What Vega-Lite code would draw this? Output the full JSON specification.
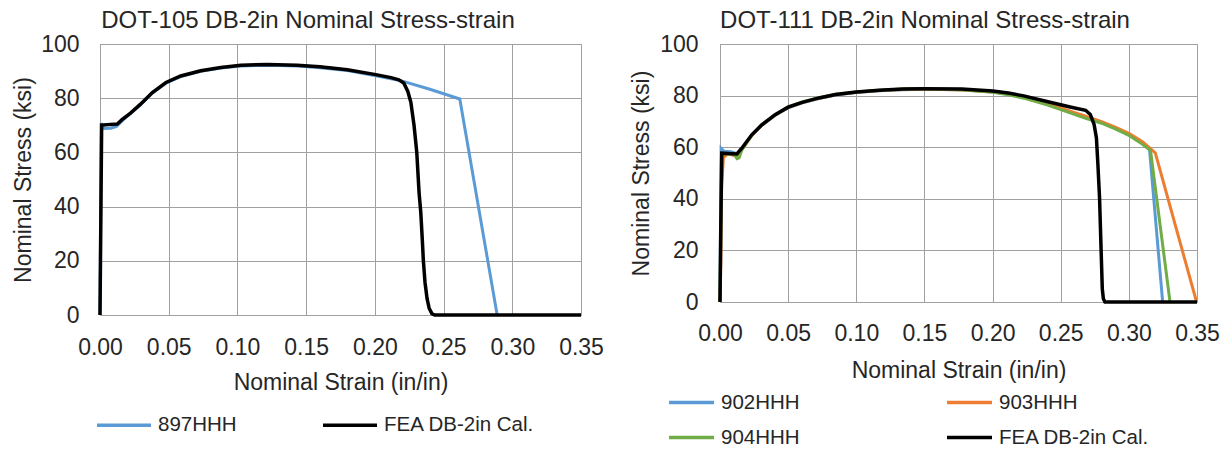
{
  "$schema": "https://vega.github.io/schema/vega-lite/v6.json",
  "padding": {"left": 12, "top": 8, "right": 5, "bottom": 5},
  "background": "white",
  "config": {
    "font": "Liberation Sans",
    "view": {"stroke": "#a0a0a0", "strokeWidth": 1},
    "axis": {
      "labelFontSize": 23, "titleFontSize": 23, "titleFontWeight": "normal",
      "labelColor": "#262626", "titleColor": "#262626",
      "gridColor": "#a0a0a0", "gridWidth": 1, "ticks": false, "domain": false,
      "labelFlush": false, "labelOverlap": false
    },
    "legend": {
      "labelFontSize": 20.5, "labelColor": "#262626", "labelLimit": 400,
      "symbolType": "stroke", "symbolStrokeWidth": 3.5, "padding": 0
    }
  },
  "datasets": {
    "dot105": [
      {"strain": 0, "stress": 0, "series": "897HHH"},
      {"strain": 0.0003, "stress": 22, "series": "897HHH"},
      {"strain": 0.0006, "stress": 50, "series": "897HHH"},
      {"strain": 0.0009, "stress": 70.8, "series": "897HHH"},
      {"strain": 0.003, "stress": 68.8, "series": "897HHH"},
      {"strain": 0.008, "stress": 68.9, "series": "897HHH"},
      {"strain": 0.012, "stress": 69.6, "series": "897HHH"},
      {"strain": 0.016, "stress": 71.6, "series": "897HHH"},
      {"strain": 0.022, "stress": 74.3, "series": "897HHH"},
      {"strain": 0.0295, "stress": 77.6, "series": "897HHH"},
      {"strain": 0.0381, "stress": 81.9, "series": "897HHH"},
      {"strain": 0.048, "stress": 85.6, "series": "897HHH"},
      {"strain": 0.0587, "stress": 88.0, "series": "897HHH"},
      {"strain": 0.0733, "stress": 89.9, "series": "897HHH"},
      {"strain": 0.0879, "stress": 91.1, "series": "897HHH"},
      {"strain": 0.1025, "stress": 91.9, "series": "897HHH"},
      {"strain": 0.1218, "stress": 92.2, "series": "897HHH"},
      {"strain": 0.1436, "stress": 91.9, "series": "897HHH"},
      {"strain": 0.16, "stress": 91.2, "series": "897HHH"},
      {"strain": 0.18, "stress": 90.2, "series": "897HHH"},
      {"strain": 0.2007, "stress": 88.3, "series": "897HHH"},
      {"strain": 0.2118, "stress": 87.2, "series": "897HHH"},
      {"strain": 0.2188, "stress": 86.5, "series": "897HHH"},
      {"strain": 0.24, "stress": 83.3, "series": "897HHH"},
      {"strain": 0.2618, "stress": 79.7, "series": "897HHH"},
      {"strain": 0.289, "stress": 0, "series": "897HHH"},
      {"strain": 0, "stress": 0, "series": "FEA DB-2in Cal."},
      {"strain": 0.0006, "stress": 35, "series": "FEA DB-2in Cal."},
      {"strain": 0.0012, "stress": 70.1, "series": "FEA DB-2in Cal."},
      {"strain": 0.0126, "stress": 70.5, "series": "FEA DB-2in Cal."},
      {"strain": 0.016, "stress": 72.1, "series": "FEA DB-2in Cal."},
      {"strain": 0.0222, "stress": 74.5, "series": "FEA DB-2in Cal."},
      {"strain": 0.0295, "stress": 77.8, "series": "FEA DB-2in Cal."},
      {"strain": 0.0381, "stress": 82.1, "series": "FEA DB-2in Cal."},
      {"strain": 0.048, "stress": 85.8, "series": "FEA DB-2in Cal."},
      {"strain": 0.0587, "stress": 88.2, "series": "FEA DB-2in Cal."},
      {"strain": 0.0733, "stress": 90.1, "series": "FEA DB-2in Cal."},
      {"strain": 0.0879, "stress": 91.3, "series": "FEA DB-2in Cal."},
      {"strain": 0.1025, "stress": 92.2, "series": "FEA DB-2in Cal."},
      {"strain": 0.1218, "stress": 92.4, "series": "FEA DB-2in Cal."},
      {"strain": 0.1436, "stress": 92.2, "series": "FEA DB-2in Cal."},
      {"strain": 0.16, "stress": 91.6, "series": "FEA DB-2in Cal."},
      {"strain": 0.18, "stress": 90.5, "series": "FEA DB-2in Cal."},
      {"strain": 0.2007, "stress": 88.7, "series": "FEA DB-2in Cal."},
      {"strain": 0.2118, "stress": 87.6, "series": "FEA DB-2in Cal."},
      {"strain": 0.2174, "stress": 86.8, "series": "FEA DB-2in Cal."},
      {"strain": 0.221, "stress": 85.6, "series": "FEA DB-2in Cal."},
      {"strain": 0.224, "stress": 82.5, "series": "FEA DB-2in Cal."},
      {"strain": 0.2262, "stress": 78.5, "series": "FEA DB-2in Cal."},
      {"strain": 0.2285, "stress": 70.0, "series": "FEA DB-2in Cal."},
      {"strain": 0.2305, "stress": 60.0, "series": "FEA DB-2in Cal."},
      {"strain": 0.2322, "stress": 45.0, "series": "FEA DB-2in Cal."},
      {"strain": 0.2334, "stress": 38.0, "series": "FEA DB-2in Cal."},
      {"strain": 0.2345, "stress": 28.0, "series": "FEA DB-2in Cal."},
      {"strain": 0.2353, "stress": 20.0, "series": "FEA DB-2in Cal."},
      {"strain": 0.2365, "stress": 12.0, "series": "FEA DB-2in Cal."},
      {"strain": 0.238, "stress": 6.0, "series": "FEA DB-2in Cal."},
      {"strain": 0.2395, "stress": 2.5, "series": "FEA DB-2in Cal."},
      {"strain": 0.2415, "stress": 0.5, "series": "FEA DB-2in Cal."},
      {"strain": 0.2435, "stress": 0, "series": "FEA DB-2in Cal."},
      {"strain": 0.35, "stress": 0, "series": "FEA DB-2in Cal."}
    ],
    "dot111": [
      {"strain": 0, "stress": 0, "series": "902HHH"},
      {"strain": 0.0004, "stress": 30, "series": "902HHH"},
      {"strain": 0.0008, "stress": 59.6, "series": "902HHH"},
      {"strain": 0.003, "stress": 58.4, "series": "902HHH"},
      {"strain": 0.008, "stress": 58.2, "series": "902HHH"},
      {"strain": 0.012, "stress": 57.6, "series": "902HHH"},
      {"strain": 0.014, "stress": 57.5, "series": "902HHH"},
      {"strain": 0.016, "stress": 59.4, "series": "902HHH"},
      {"strain": 0.0233, "stress": 64.6, "series": "902HHH"},
      {"strain": 0.0307, "stress": 68.5, "series": "902HHH"},
      {"strain": 0.0405, "stress": 72.4, "series": "902HHH"},
      {"strain": 0.05, "stress": 75.3, "series": "902HHH"},
      {"strain": 0.0603, "stress": 77.2, "series": "902HHH"},
      {"strain": 0.0726, "stress": 78.9, "series": "902HHH"},
      {"strain": 0.0848, "stress": 80.2, "series": "902HHH"},
      {"strain": 0.1, "stress": 81.2, "series": "902HHH"},
      {"strain": 0.1168, "stress": 81.9, "series": "902HHH"},
      {"strain": 0.134, "stress": 82.3, "series": "902HHH"},
      {"strain": 0.149, "stress": 82.5, "series": "902HHH"},
      {"strain": 0.1775, "stress": 82.3, "series": "902HHH"},
      {"strain": 0.2002, "stress": 81.5, "series": "902HHH"},
      {"strain": 0.2116, "stress": 80.6, "series": "902HHH"},
      {"strain": 0.2229, "stress": 79.4, "series": "902HHH"},
      {"strain": 0.2399, "stress": 76.9, "series": "902HHH"},
      {"strain": 0.2569, "stress": 73.8, "series": "902HHH"},
      {"strain": 0.2683, "stress": 71.7, "series": "902HHH"},
      {"strain": 0.2795, "stress": 69.8, "series": "902HHH"},
      {"strain": 0.29, "stress": 67.5, "series": "902HHH"},
      {"strain": 0.3, "stress": 65.0, "series": "902HHH"},
      {"strain": 0.31, "stress": 61.6, "series": "902HHH"},
      {"strain": 0.3151, "stress": 59.5, "series": "902HHH"},
      {"strain": 0.3248, "stress": 0, "series": "902HHH"},
      {"strain": 0, "stress": 0, "series": "903HHH"},
      {"strain": 0.0006, "stress": 15, "series": "903HHH"},
      {"strain": 0.0012, "stress": 45, "series": "903HHH"},
      {"strain": 0.0025, "stress": 56.0, "series": "903HHH"},
      {"strain": 0.006, "stress": 57.4, "series": "903HHH"},
      {"strain": 0.0115, "stress": 56.6, "series": "903HHH"},
      {"strain": 0.0128, "stress": 55.9, "series": "903HHH"},
      {"strain": 0.0142, "stress": 57.0, "series": "903HHH"},
      {"strain": 0.016, "stress": 59.0, "series": "903HHH"},
      {"strain": 0.0233, "stress": 64.5, "series": "903HHH"},
      {"strain": 0.0307, "stress": 68.6, "series": "903HHH"},
      {"strain": 0.0405, "stress": 72.5, "series": "903HHH"},
      {"strain": 0.05, "stress": 75.4, "series": "903HHH"},
      {"strain": 0.0603, "stress": 77.3, "series": "903HHH"},
      {"strain": 0.0726, "stress": 79.0, "series": "903HHH"},
      {"strain": 0.0848, "stress": 80.3, "series": "903HHH"},
      {"strain": 0.1, "stress": 81.3, "series": "903HHH"},
      {"strain": 0.1168, "stress": 82.0, "series": "903HHH"},
      {"strain": 0.134, "stress": 82.4, "series": "903HHH"},
      {"strain": 0.149, "stress": 82.6, "series": "903HHH"},
      {"strain": 0.1775, "stress": 82.2, "series": "903HHH"},
      {"strain": 0.2002, "stress": 81.4, "series": "903HHH"},
      {"strain": 0.2116, "stress": 80.7, "series": "903HHH"},
      {"strain": 0.2229, "stress": 79.6, "series": "903HHH"},
      {"strain": 0.2399, "stress": 77.1, "series": "903HHH"},
      {"strain": 0.2569, "stress": 74.0, "series": "903HHH"},
      {"strain": 0.2683, "stress": 72.0, "series": "903HHH"},
      {"strain": 0.2795, "stress": 70.0, "series": "903HHH"},
      {"strain": 0.29, "stress": 67.8, "series": "903HHH"},
      {"strain": 0.3, "stress": 65.4, "series": "903HHH"},
      {"strain": 0.31, "stress": 62.1, "series": "903HHH"},
      {"strain": 0.3194, "stress": 57.8, "series": "903HHH"},
      {"strain": 0.3497, "stress": 0, "series": "903HHH"},
      {"strain": 0, "stress": 0, "series": "904HHH"},
      {"strain": 0.0008, "stress": 40, "series": "904HHH"},
      {"strain": 0.0015, "stress": 57.5, "series": "904HHH"},
      {"strain": 0.005, "stress": 57.3, "series": "904HHH"},
      {"strain": 0.01, "stress": 57.6, "series": "904HHH"},
      {"strain": 0.0125, "stress": 55.6, "series": "904HHH"},
      {"strain": 0.014, "stress": 55.9, "series": "904HHH"},
      {"strain": 0.016, "stress": 58.9, "series": "904HHH"},
      {"strain": 0.0233, "stress": 64.7, "series": "904HHH"},
      {"strain": 0.0307, "stress": 68.8, "series": "904HHH"},
      {"strain": 0.0405, "stress": 72.7, "series": "904HHH"},
      {"strain": 0.05, "stress": 75.6, "series": "904HHH"},
      {"strain": 0.0603, "stress": 77.5, "series": "904HHH"},
      {"strain": 0.0726, "stress": 79.2, "series": "904HHH"},
      {"strain": 0.0848, "stress": 80.5, "series": "904HHH"},
      {"strain": 0.1, "stress": 81.4, "series": "904HHH"},
      {"strain": 0.1168, "stress": 82.1, "series": "904HHH"},
      {"strain": 0.134, "stress": 82.6, "series": "904HHH"},
      {"strain": 0.149, "stress": 82.8, "series": "904HHH"},
      {"strain": 0.1775, "stress": 82.3, "series": "904HHH"},
      {"strain": 0.2002, "stress": 81.3, "series": "904HHH"},
      {"strain": 0.2116, "stress": 80.3, "series": "904HHH"},
      {"strain": 0.2229, "stress": 79.0, "series": "904HHH"},
      {"strain": 0.2399, "stress": 76.4, "series": "904HHH"},
      {"strain": 0.2569, "stress": 73.3, "series": "904HHH"},
      {"strain": 0.2683, "stress": 71.2, "series": "904HHH"},
      {"strain": 0.2795, "stress": 69.4, "series": "904HHH"},
      {"strain": 0.29, "stress": 67.1, "series": "904HHH"},
      {"strain": 0.3, "stress": 64.6, "series": "904HHH"},
      {"strain": 0.31, "stress": 61.1, "series": "904HHH"},
      {"strain": 0.3159, "stress": 58.7, "series": "904HHH"},
      {"strain": 0.3302, "stress": 0, "series": "904HHH"},
      {"strain": 0, "stress": 0, "series": "FEA DB-2in Cal."},
      {"strain": 0.0006, "stress": 30, "series": "FEA DB-2in Cal."},
      {"strain": 0.0013, "stress": 57.7, "series": "FEA DB-2in Cal."},
      {"strain": 0.0124, "stress": 57.4, "series": "FEA DB-2in Cal."},
      {"strain": 0.016, "stress": 59.6, "series": "FEA DB-2in Cal."},
      {"strain": 0.0233, "stress": 64.8, "series": "FEA DB-2in Cal."},
      {"strain": 0.0307, "stress": 68.7, "series": "FEA DB-2in Cal."},
      {"strain": 0.0405, "stress": 72.6, "series": "FEA DB-2in Cal."},
      {"strain": 0.05, "stress": 75.5, "series": "FEA DB-2in Cal."},
      {"strain": 0.0603, "stress": 77.4, "series": "FEA DB-2in Cal."},
      {"strain": 0.0726, "stress": 79.1, "series": "FEA DB-2in Cal."},
      {"strain": 0.0848, "stress": 80.4, "series": "FEA DB-2in Cal."},
      {"strain": 0.1, "stress": 81.4, "series": "FEA DB-2in Cal."},
      {"strain": 0.1168, "stress": 82.1, "series": "FEA DB-2in Cal."},
      {"strain": 0.134, "stress": 82.6, "series": "FEA DB-2in Cal."},
      {"strain": 0.149, "stress": 82.7, "series": "FEA DB-2in Cal."},
      {"strain": 0.1775, "stress": 82.6, "series": "FEA DB-2in Cal."},
      {"strain": 0.2002, "stress": 81.8, "series": "FEA DB-2in Cal."},
      {"strain": 0.2116, "stress": 81.0, "series": "FEA DB-2in Cal."},
      {"strain": 0.2229, "stress": 79.9, "series": "FEA DB-2in Cal."},
      {"strain": 0.2399, "stress": 77.7, "series": "FEA DB-2in Cal."},
      {"strain": 0.2569, "stress": 75.6, "series": "FEA DB-2in Cal."},
      {"strain": 0.2683, "stress": 74.3, "series": "FEA DB-2in Cal."},
      {"strain": 0.2717, "stress": 72.7, "series": "FEA DB-2in Cal."},
      {"strain": 0.2745, "stress": 68.8, "series": "FEA DB-2in Cal."},
      {"strain": 0.2762, "stress": 63.6, "series": "FEA DB-2in Cal."},
      {"strain": 0.2773, "stress": 53.2, "series": "FEA DB-2in Cal."},
      {"strain": 0.2785, "stress": 40.3, "series": "FEA DB-2in Cal."},
      {"strain": 0.2796, "stress": 20.8, "series": "FEA DB-2in Cal."},
      {"strain": 0.2805, "stress": 5.2, "series": "FEA DB-2in Cal."},
      {"strain": 0.2813, "stress": 1.3, "series": "FEA DB-2in Cal."},
      {"strain": 0.2825, "stress": 0, "series": "FEA DB-2in Cal."},
      {"strain": 0.35, "stress": 0, "series": "FEA DB-2in Cal."}
    ]
  },
  "hconcat": [
    {
      "width": 481, "height": 271,
      "title": {"text": "DOT-105 DB-2in Nominal Stress-strain", "fontSize": 24, "fontWeight": "normal", "color": "#262626", "offset": 0, "anchor": "middle", "frame": "bounds"},
      "data": {"name": "dot105"},
      "encoding": {
        "x": {"field": "strain", "type": "quantitative", "scale": {"domain": [0, 0.35], "nice": false},
              "axis": {"values": [0, 0.05, 0.1, 0.15, 0.2, 0.25, 0.3, 0.35], "format": ".2f", "title": "Nominal Strain (in/in)", "labelPadding": 21, "titlePadding": 12}},
        "y": {"field": "stress", "type": "quantitative", "scale": {"domain": [0, 100], "nice": false},
              "axis": {"values": [0, 20, 40, 60, 80, 100], "title": "Nominal Stress (ksi)", "labelPadding": 21, "titlePadding": 5}},
        "color": {"field": "series", "type": "nominal",
                  "scale": {"domain": ["897HHH", "FEA DB-2in Cal."], "range": ["#5b9bd5", "#000000"]},
                  "legend": {"title": null, "orient": "none", "legendX": -5, "legendY": 352, "direction": "horizontal", "columns": 2, "columnPadding": 79, "symbolSize": 2916, "labelOffset": 5}}
      },
      "layer": [
        {"transform": [{"filter": "datum.series != 'FEA DB-2in Cal.'"}], "mark": {"type": "line", "strokeWidth": 3}},
        {"transform": [{"filter": "datum.series == 'FEA DB-2in Cal.'"}], "mark": {"type": "line", "strokeWidth": 3.5}}
      ]
    },
    {
      "width": 477, "height": 258,
      "title": {"text": "DOT-111 DB-2in Nominal Stress-strain", "fontSize": 24, "fontWeight": "normal", "color": "#262626", "offset": 0, "anchor": "middle", "frame": "bounds"},
      "data": {"name": "dot111"},
      "encoding": {
        "x": {"field": "strain", "type": "quantitative", "scale": {"domain": [0, 0.35], "nice": false},
              "axis": {"values": [0, 0.05, 0.1, 0.15, 0.2, 0.25, 0.3, 0.35], "format": ".2f", "title": "Nominal Strain (in/in)", "labelPadding": 20.5, "titlePadding": 13.5}},
        "y": {"field": "stress", "type": "quantitative", "scale": {"domain": [0, 100], "nice": false},
              "axis": {"values": [0, 20, 40, 60, 80, 100], "title": "Nominal Stress (ksi)", "labelPadding": 22, "titlePadding": 6}},
        "color": {"field": "series", "type": "nominal",
                  "scale": {"domain": ["902HHH", "903HHH", "904HHH", "FEA DB-2in Cal."], "range": ["#5b9bd5", "#ed7d31", "#70ad47", "#000000"]},
                  "legend": {"title": null, "orient": "none", "legendX": -53, "legendY": 334, "direction": "horizontal", "columns": 2, "columnPadding": 140, "rowPadding": -6, "symbolSize": 2025, "labelOffset": 5}}
      },
      "layer": [
        {"transform": [{"filter": "datum.series != 'FEA DB-2in Cal.'"}], "mark": {"type": "line", "strokeWidth": 3}},
        {"transform": [{"filter": "datum.series == 'FEA DB-2in Cal.'"}], "mark": {"type": "line", "strokeWidth": 3.5}}
      ]
    }
  ],
  "spacing": 26,
  "resolve": {"scale": {"color": "independent"}, "legend": {"color": "independent"}}
}
